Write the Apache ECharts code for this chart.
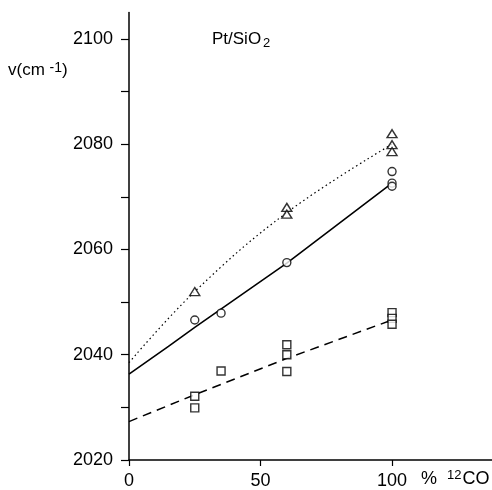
<!DOCTYPE html>
<html>
<head>
<meta charset="utf-8">
<script src="https://cdn.jsdelivr.net/npm/echarts@6/dist/echarts.min.js"></script>
<style>
  html, body { margin: 0; padding: 0; background: #fff; }
  #chart { width: 492px; height: 490px; }
</style>
</head>
<body>
<div id="chart"></div>
<script>
// measured points (% 12CO, wavenumber)
const trianglePts = [[25, 2052], [60, 2068], [60, 2066.7], [100, 2082], [100, 2079.9], [100, 2078.6]]
const circlePts = [[25, 2046.6], [35, 2047.9], [60, 2057.5], [100, 2074.8], [100, 2072.6], [100, 2072]]
const squarePts = [[25, 2032.1], [25, 2029.9], [35, 2036.9], [60, 2041.9], [60, 2040], [60, 2036.8],
  [100, 2048], [100, 2046.9], [100, 2045.8]]

// fitted curves
const dottedFit = [[0, 2038.5], [25, 2052], [60, 2067], [100, 2080]]
const solidFit = [[0, 2036.3], [15, 2041.6], [25, 2045.2], [60, 2057.4], [100, 2072.6]]
const dashedFit = [[0, 2027.3], [25, 2032.4], [60, 2039.3], [100, 2046.6]]

const xLabels = [0, 50, 100]
const yLabels = [2020, 2040, 2060, 2080, 2100]

const font = 'Liberation Sans, Arial, sans-serif'
const chart = echarts.init(document.getElementById('chart'))

const markerStyle = { color: '#fff', borderColor: '#000', borderWidth: 1.4 }

const option = {
  animation: false,
  backgroundColor: '#fff',
  grid: { left: 129, right: 0, top: 12.6, bottom: 29 },
  title: {
    text: 'Pt/SiO{s|2}',
    left: 207, top: 24,
    textStyle: {
      fontFamily: font, fontSize: 17, fontWeight: 'normal', color: '#000',
      rich: { s: { fontFamily: font, fontSize: 13, color: '#000', padding: [8, 0, 0, 2] } }
    }
  },
  graphic: [
    {
      type: 'text', left: 8, top: 61,
      style: {
        text: 'v(cm {s|-1})',
        font: '17px ' + font, fill: '#000',
        rich: { s: { fontSize: 14, fontFamily: font, fill: '#000', padding: [0, 0, 4, 0] } }
      }
    },
    {
      type: 'text', left: 421, top: 469,
      style: {
        text: '%  {s|12}CO',
        font: '18px ' + font, fill: '#000',
        rich: { s: { fontSize: 13, fontFamily: font, fill: '#000', padding: [0, 1, 8, 0] } }
      }
    }
  ],
  xAxis: {
    type: 'value', min: 0, max: 138, interval: 50,
    splitLine: { show: false },
    axisLine: { lineStyle: { color: '#000', width: 1.5 } },
    axisTick: { length: 6, lineStyle: { color: '#000', width: 1.2 } },
    axisLabel: {
      margin: 12, color: '#000', fontFamily: font, fontSize: 18,
      showMaxLabel: false,
      formatter: v => xLabels.includes(v) ? String(v) : ''
    }
  },
  yAxis: {
    type: 'value', min: 2020, max: 2105, interval: 10,
    splitLine: { show: false },
    axisLine: { lineStyle: { color: '#000', width: 1.5 } },
    axisTick: { length: 8, lineStyle: { color: '#000', width: 1.2 } },
    axisLabel: {
      margin: 16, color: '#000', fontFamily: font, fontSize: 18,
      showMaxLabel: false,
      formatter: v => yLabels.includes(v) ? String(v) : ''
    }
  },
  series: [
    {
      type: 'line', data: dottedFit, smooth: 0.4, showSymbol: false, z: 2,
      lineStyle: { color: '#000', width: 1.2, type: [1.5, 3] }
    },
    {
      type: 'line', data: solidFit, showSymbol: false, z: 2,
      lineStyle: { color: '#000', width: 1.6 }
    },
    {
      type: 'line', data: dashedFit, showSymbol: false, z: 2,
      lineStyle: { color: '#000', width: 1.5, type: [9, 6] }
    },
    {
      type: 'scatter', data: trianglePts, symbol: 'triangle', symbolSize: [10, 8], z: 3,
      itemStyle: markerStyle
    },
    {
      type: 'scatter', data: circlePts, symbol: 'circle', symbolSize: 8, z: 3,
      itemStyle: markerStyle
    },
    {
      type: 'scatter', data: squarePts, symbol: 'rect', symbolSize: 8, z: 3,
      itemStyle: markerStyle
    }
  ]
}

chart.setOption(option)
</script>
</body>
</html>
